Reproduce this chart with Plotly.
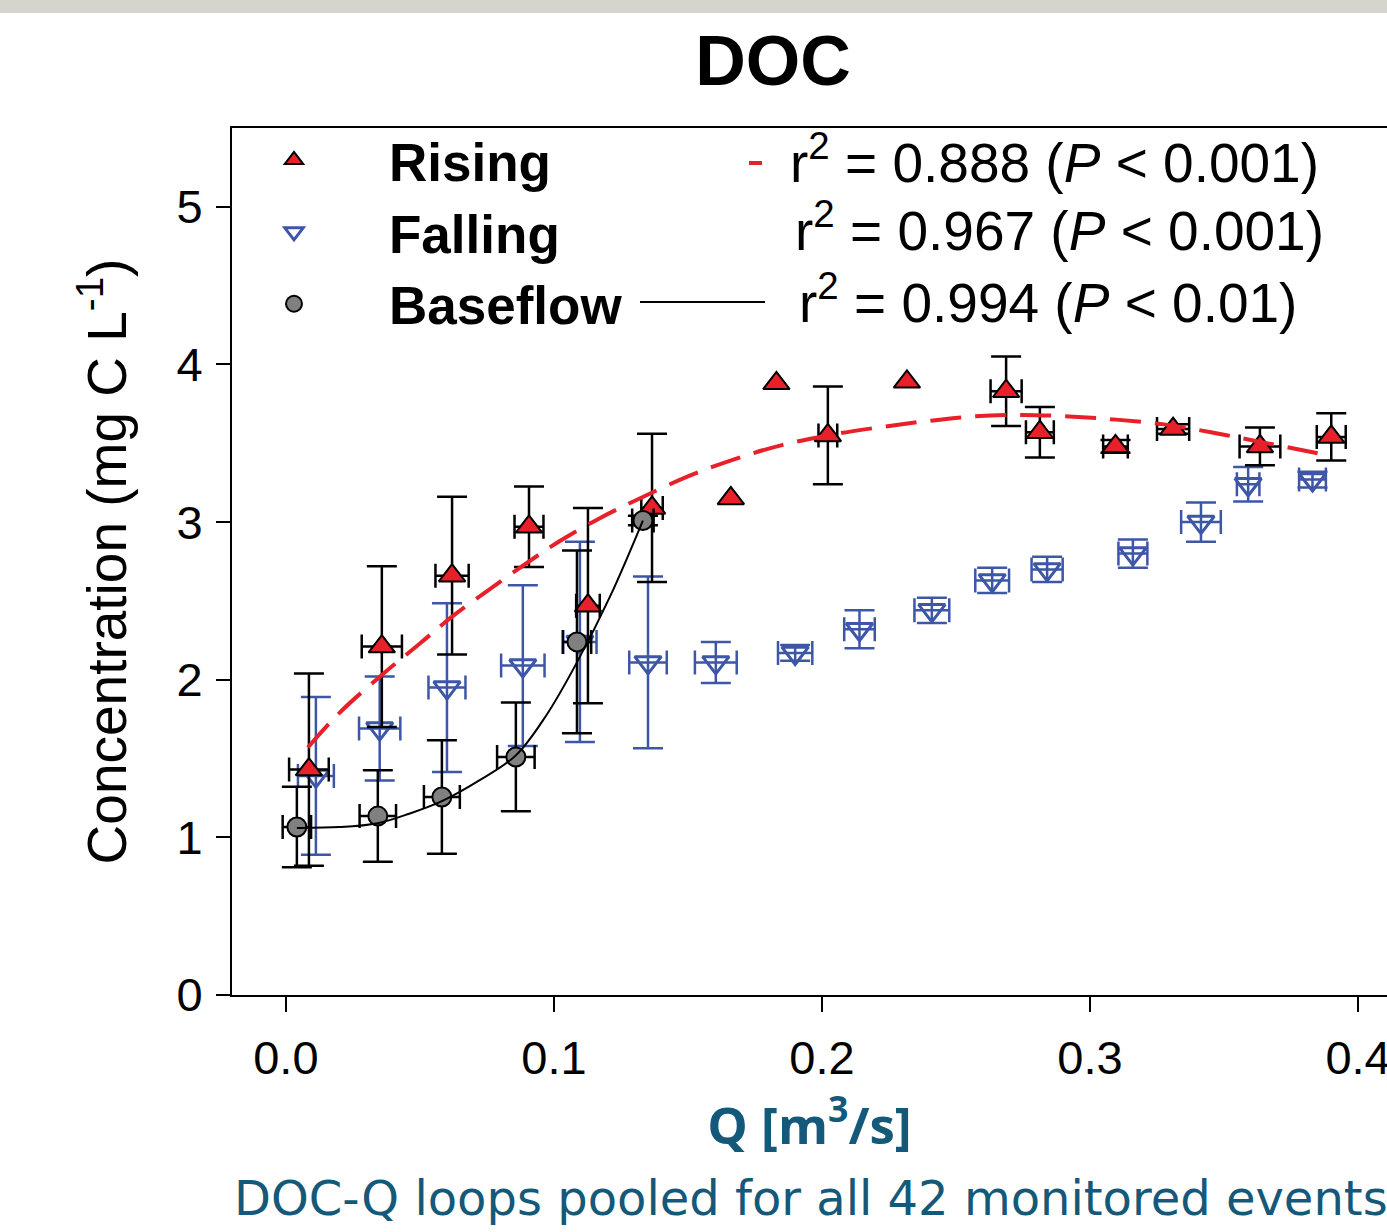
import plotly.graph_objects as go

# ---------------- data ----------------
rise_q = [0.0086, 0.0358, 0.0620, 0.0907, 0.1127, 0.1366, 0.1660, 0.1830, 0.2022, 0.2317,
          0.2687, 0.2813, 0.3095, 0.3310, 0.3634, 0.3900]
rise_c = [1.43, 2.21, 2.66, 2.97, 2.47, 3.09, 3.15, 3.88, 3.55, 3.89,
          3.83, 3.57, 3.48, 3.59, 3.48, 3.54]
rise_c_err = [0.61, 0.51, 0.50, 0.255, 0.62, 0.47, None, None, 0.31, None,
              0.22, 0.16, 0.04, 0.03, 0.12, 0.15]
rise_q_err = [0.0074, 0.0075, 0.0062, 0.0054, 0.0044, 0.0040, None, None, 0.0035, None,
              0.0058, 0.0052, 0.0046, 0.0060, 0.0076, 0.0054]

fall_q = [0.0112, 0.0350, 0.0601, 0.0884, 0.1097, 0.1351, 0.1604, 0.1900, 0.2140, 0.2410,
          0.2635, 0.2840, 0.3160, 0.3414, 0.3590, 0.3830]
fall_c = [1.39, 1.69, 1.95, 2.09, 2.24, 2.11, 2.11, 2.17, 2.32, 2.44,
          2.63, 2.70, 2.80, 3.00, 3.24, 3.27]
fall_c_err = [0.50, 0.33, 0.535, 0.51, 0.635, 0.545, 0.13, 0.05, 0.12, 0.08,
              0.08, 0.08, 0.09, 0.125, 0.11, 0.05]
fall_q_err = [0.0067, 0.0077, 0.0069, 0.0081, 0.0062, 0.0070, 0.0078, 0.0064, 0.0057, 0.0065,
              0.0063, 0.0058, 0.0054, 0.0074, 0.0042, 0.0050]

base_q = [0.0041, 0.0343, 0.0582, 0.0858, 0.1086, 0.1332]
base_c = [1.066, 1.135, 1.256, 1.51, 2.24, 3.01]
base_c_err = [0.255, 0.29, 0.36, 0.345, 0.58, 0.03]
base_q_err = [0.0053, 0.0068, 0.0067, 0.0070, 0.0053, 0.0040]

# fitted curves as drawn in the reference
fit_rise_q = [0.0082, 0.0200, 0.0358, 0.0500, 0.0620, 0.0765, 0.0907, 0.1022, 0.1166, 0.1320,
              0.1500, 0.1675, 0.1854, 0.2022, 0.2209, 0.2388, 0.2563, 0.2743, 0.2922, 0.3097,
              0.3276, 0.3451, 0.3631, 0.3900]
fit_rise_c = [1.57, 1.79, 2.03, 2.23, 2.40, 2.58, 2.75, 2.88, 3.02, 3.15,
              3.29, 3.40, 3.49, 3.55, 3.60, 3.64, 3.67, 3.68, 3.67, 3.65,
              3.62, 3.57, 3.51, 3.42]

fit_base_q = [0.0041, 0.0200, 0.0343, 0.0460, 0.0582, 0.0720, 0.0858, 0.0970, 0.1086, 0.1210, 0.1332]
fit_base_c = [1.06, 1.065, 1.09, 1.15, 1.23, 1.36, 1.52, 1.77, 2.11, 2.53, 3.01]

legend_names = ["Rising", "Falling", "Baseflow"]
r2_texts = ["r<sup>2</sup> = 0.888 (<i>P</i> &lt; 0.001)",
            "r<sup>2</sup> = 0.967 (<i>P</i> &lt; 0.001)",
            "r<sup>2</sup> = 0.994 (<i>P</i> &lt; 0.01)"]

x_ticks = [0.0, 0.1, 0.2, 0.3, 0.4]
x_ticktext = ["0.0", "0.1", "0.2", "0.3", "0.4"]
y_ticks = [0, 1, 2, 3, 4, 5]

# ---------------- styles ----------------
RED = "#e8202a"
BLUE = "#3d56a8"
GRAY = "#808080"
BLACK = "#000000"
TEAL = "#14587a"
FONT = "Liberation Sans, Arial, sans-serif"

fig = go.Figure()


def subset(vals, mask):
    return [v for v, m in zip(vals, mask) if m]


# Falling (drawn first, beneath)
fig.add_trace(go.Scatter(
    x=fall_q, y=fall_c, mode="markers", name="<b>%s</b>" % legend_names[1], legendrank=2,
    marker=dict(symbol="triangle-down-open", size=23, color=BLUE, line=dict(width=3, color=BLUE)),
    error_y=dict(type="data", array=fall_c_err, color=BLUE, thickness=2.5, width=15),
    error_x=dict(type="data", array=fall_q_err, color=BLUE, thickness=2.5, width=12),
))

# Rising
has_err = [e is not None for e in rise_c_err]
no_err = [not h for h in has_err]
fig.add_trace(go.Scatter(
    x=subset(rise_q, has_err), y=subset(rise_c, has_err), mode="markers",
    name="<b>%s</b>" % legend_names[0], legendrank=1,
    marker=dict(symbol="triangle-up", size=23, color=RED, line=dict(width=2, color=BLACK)),
    error_y=dict(type="data", array=subset(rise_c_err, has_err), color=BLACK, thickness=2.5, width=15),
    error_x=dict(type="data", array=subset(rise_q_err, has_err), color=BLACK, thickness=2.5, width=12),
))
fig.add_trace(go.Scatter(
    x=subset(rise_q, no_err), y=subset(rise_c, no_err), mode="markers", showlegend=False,
    marker=dict(symbol="triangle-up", size=23, color=RED, line=dict(width=2, color=BLACK)),
))

# Baseflow
fig.add_trace(go.Scatter(
    x=base_q, y=base_c, mode="markers", name="<b>%s</b>" % legend_names[2], legendrank=3,
    marker=dict(symbol="circle", size=19, color=GRAY, line=dict(width=2, color=BLACK)),
    error_y=dict(type="data", array=base_c_err, color=BLACK, thickness=2.5, width=15),
    error_x=dict(type="data", array=base_q_err, color=BLACK, thickness=2.5, width=12),
))

# Fit curves
fig.add_trace(go.Scatter(
    x=fit_rise_q, y=fit_rise_c, mode="lines", showlegend=False,
    line=dict(color=RED, width=4, dash="31px,14px", shape="spline"),
))
fig.add_trace(go.Scatter(
    x=fit_base_q, y=fit_base_c, mode="lines", showlegend=False,
    line=dict(color=BLACK, width=2, shape="spline"),
))

# plot area geometry (pixels)
W, H = 1387, 1232
L, R, T, B = 232, 0, 128, 237
PW, PH = W - L - R, H - T - B


def px(xpix):
    return (xpix - L) / PW


def py(ypix):
    return (H - B - ypix) / PH


annotations = []
r2_pos = [(788, 159), (793, 227), (797, 299)]
for txt, (ax_, ay_) in zip(r2_texts, r2_pos):
    annotations.append(dict(
        text=txt, xref="paper", yref="paper", x=px(ax_), y=py(ay_),
        xanchor="left", yanchor="middle", showarrow=False,
        font=dict(family=FONT, size=55, color=BLACK),
    ))
annotations.append(dict(
    text="DOC-Q loops pooled for all 42 monitored events",
    xref="paper", yref="paper", x=px(232), y=py(1198), xanchor="left", yanchor="middle",
    showarrow=False, font=dict(family="DejaVu Sans, Verdana, sans-serif", size=48, color=TEAL),
))

shapes = [
    # grey band at the very top of the slide
    dict(type="rect", xref="paper", yref="paper", x0=px(0), x1=px(W), y0=py(0), y1=py(13),
         line=dict(width=0), fillcolor="#d6d5cd", layer="below"),
    # legend line samples
    dict(type="line", xref="paper", yref="paper", x0=px(749), x1=px(762), y0=py(163), y1=py(163),
         line=dict(color=RED, width=4)),
    dict(type="line", xref="paper", yref="paper", x0=px(640), x1=px(765), y0=py(302), y1=py(302),
         line=dict(color=BLACK, width=2)),
]

fig.update_layout(
    width=W, height=H,
    margin=dict(l=L, r=R, t=T, b=B, pad=0, autoexpand=False),
    paper_bgcolor="white", plot_bgcolor="white",
    title=dict(text="<b>DOC</b>", x=773 / W, xanchor="center", y=1 - 60 / H, yanchor="middle",
               font=dict(family=FONT, size=70, color=BLACK)),
    showlegend=True,
    legend=dict(x=px(199), y=py(119), xanchor="left", yanchor="top",
                bgcolor="rgba(0,0,0,0)", borderwidth=0, itemwidth=180,
                font=dict(family=FONT, size=53, color=BLACK), tracegroupgap=0),
    annotations=annotations,
    shapes=shapes,
)

fig.update_xaxes(
    range=[-0.0201, 0.4108], tickvals=x_ticks, ticktext=x_ticktext,
    ticks="outside", ticklen=15, tickwidth=2, tickcolor=BLACK,
    showline=True, linewidth=2, linecolor=BLACK, mirror=True,
    showgrid=False, zeroline=False, ticklabeloverflow="allow", ticklabelstandoff=6,
    tickfont=dict(family=FONT, size=47, color=BLACK),
    title=dict(text="<b>Q [m<sup>3</sup>/s]</b>", font=dict(family="Open Sans, sans-serif", size=51, color=TEAL),
               standoff=22),
)
fig.update_yaxes(
    range=[0, 5.5], tickvals=y_ticks,
    ticks="outside", ticklen=14, tickwidth=2, tickcolor=BLACK,
    showline=True, linewidth=2, linecolor=BLACK, mirror=False,
    showgrid=False, zeroline=False, ticklabelstandoff=4,
    tickfont=dict(family=FONT, size=47, color=BLACK),
    title=dict(text="Concentration (mg C L<sup>-1</sup>)", font=dict(family=FONT, size=55, color=BLACK),
               standoff=32),
)

fig.write_html("out.html")
